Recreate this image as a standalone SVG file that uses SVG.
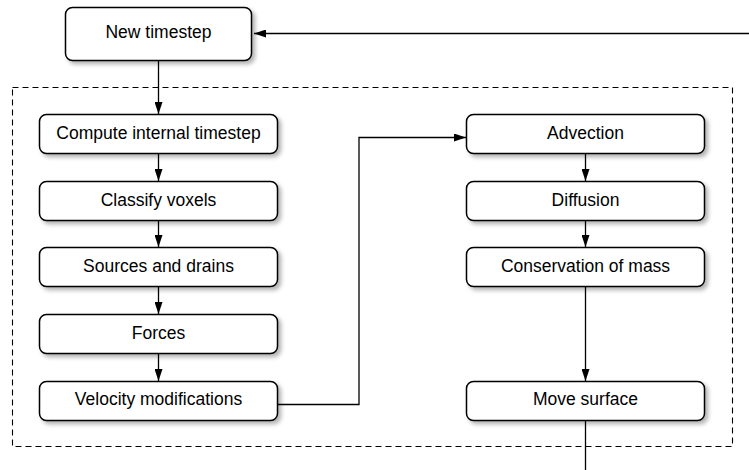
<svg xmlns="http://www.w3.org/2000/svg" width="749" height="470" viewBox="0 0 749 470">
<defs>
<filter id="sh" x="-10%" y="-30%" width="125%" height="170%">
<feDropShadow dx="3" dy="3" stdDeviation="2" flood-color="#000" flood-opacity="0.3"/>
</filter>
<marker id="ah" viewBox="0 0 12 8" refX="12" refY="4" markerWidth="12" markerHeight="8" markerUnits="userSpaceOnUse" orient="auto">
<path d="M0,0 L12,4 L0,8 Z" fill="#000"/>
</marker>
</defs>
<style>
.box{fill:#fff;stroke:#000;stroke-width:1.5;filter:url(#sh)}
.lbl{font-family:"Liberation Sans",Arial,Helvetica,sans-serif;font-size:17.5px;fill:#000;text-anchor:middle}
.c{fill:none;stroke:#000;stroke-width:1.3}
.ca{fill:none;stroke:#000;stroke-width:1.3;marker-end:url(#ah)}
</style>
<rect x="12.5" y="87.5" width="720" height="359" fill="none" stroke="#000" stroke-width="1.1" stroke-dasharray="6,4"/>
<g id="connectors">
<path class="ca" d="M749,33.5 H254"/>
<path class="ca" d="M158.5,61 V114"/>
<path class="ca" d="M158.5,154 V181"/>
<path class="ca" d="M158.5,221 V247"/>
<path class="ca" d="M158.5,287 V314"/>
<path class="ca" d="M158.5,354 V381"/>
<path class="ca" d="M278,404.5 H359 V137.5 H466"/>
<path class="ca" d="M585.5,154 V181"/>
<path class="ca" d="M585.5,221 V247"/>
<path class="ca" d="M585.5,287 V381"/>
<path class="c" d="M585.5,420 V470"/>
</g>
<g id="n-new"><rect class="box" x="65.5" y="7.5" width="186" height="53" rx="7"/><text class="lbl" x="158.5" y="38">New timestep</text></g>
<g id="n-compute"><rect class="box" x="39.5" y="114.5" width="238" height="39" rx="7"/><text class="lbl" x="158.5" y="138.5">Compute internal timestep</text></g>
<g id="n-classify"><rect class="box" x="39.5" y="181.5" width="238" height="39" rx="7"/><text class="lbl" x="158.5" y="205.5">Classify voxels</text></g>
<g id="n-sources"><rect class="box" x="39.5" y="247.5" width="238" height="39" rx="7"/><text class="lbl" x="158.5" y="271.5">Sources and drains</text></g>
<g id="n-forces"><rect class="box" x="39.5" y="314.5" width="238" height="39" rx="7"/><text class="lbl" x="158.5" y="338.5">Forces</text></g>
<g id="n-velocity"><rect class="box" x="39.5" y="381.5" width="238" height="39" rx="7"/><text class="lbl" x="158.5" y="405">Velocity modifications</text></g>
<g id="n-advection"><rect class="box" x="466.5" y="114.5" width="238" height="39" rx="7"/><text class="lbl" x="585.5" y="138.5">Advection</text></g>
<g id="n-diffusion"><rect class="box" x="466.5" y="181.5" width="238" height="39" rx="7"/><text class="lbl" x="585.5" y="205.5">Diffusion</text></g>
<g id="n-conservation"><rect class="box" x="466.5" y="247.5" width="238" height="39" rx="7"/><text class="lbl" x="585.5" y="271.5">Conservation of mass</text></g>
<g id="n-move"><rect class="box" x="466.5" y="381.5" width="238" height="39" rx="7"/><text class="lbl" x="585.5" y="405">Move surface</text></g>
</svg>
